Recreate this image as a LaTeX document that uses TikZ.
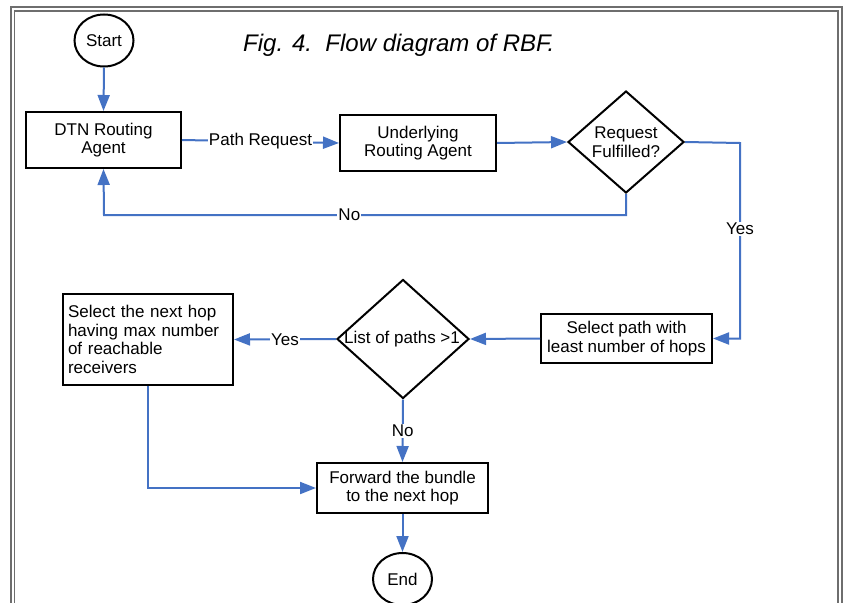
\documentclass[tikz,border=0pt]{standalone}
\usepackage{fontspec}
\setmainfont{Liberation Sans}
\usetikzlibrary{shapes.geometric,arrows.meta}
\definecolor{flowblue}{RGB}{68,114,196}
\definecolor{framegray}{RGB}{110,110,110}
\begin{document}
\begin{tikzpicture}[x=1pt,y=-1pt,
  box/.style={draw=black, line width=2pt, fill=white, inner sep=2pt, align=center, font=\fontsize{17}{18.5}\selectfont},
  term/.style={draw=black, line width=2pt, ellipse, minimum width=59pt, minimum height=52pt, inner sep=0pt, font=\fontsize{17}{18.5}\selectfont},
  decision/.style={draw=black, line width=2pt, diamond, inner sep=0pt},
  lbl/.style={font=\fontsize{17}{18.5}\selectfont, align=center, inner sep=1pt},
  flow/.style={draw=flowblue, line width=2pt, -{Triangle[length=16pt,width=12pt]}},
  link/.style={draw=flowblue, line width=2pt},
  frameline/.style={draw=framegray, line width=1.2pt}]
\useasboundingbox (0,0) rectangle (845,602);
% frame
\draw[frameline] (11,610) -- (11,7) -- (842,7) -- (842,610);
\draw[frameline] (14.5,610) -- (14.5,11) -- (838,11) -- (838,610);
% title
\node[anchor=base west, inner sep=0pt, font=\fontsize{24}{28}\selectfont\itshape] (title) at (243,52) {Fig. 4.\ \ Flow diagram of RBF.};
% nodes
\node[term] (start) at (104,40.5) {Start};
\node[box, minimum width=155pt, minimum height=56pt] (dtn) at (103.5,140) {DTN Routing\\Agent};
\node[box, minimum width=156pt, minimum height=56pt] (ura) at (418,143) {Underlying\\Routing Agent};
\node[decision, minimum width=116pt, minimum height=102pt] (d1) at (626,142) {};
\node[lbl] (d1t) at (626,142) {Request\\Fulfilled?};
\node[box, minimum width=171pt, minimum height=49pt] (sp) at (626.5,338.5) {Select path with\\least number of hops};
\node[decision, minimum width=132pt, minimum height=119pt] (d2) at (403,339) {};
\node[lbl] (d2t) at (402,339) {List of paths >1};
\node[box, minimum width=170pt, minimum height=91pt, text width=160pt, inner xsep=5pt, align=left] (nh) at (148,339.5) {Select the next hop\\having max number\\of reachable\\receivers};
\node[box, minimum width=171pt, minimum height=50pt] (fw) at (402.5,488) {Forward the bundle\\to the next hop};
\node[term] (end) at (402.5,579) {End};
% connectors
\draw[flow] (start.south) -- (dtn.north);
\draw[flow] (dtn.east) -- node[lbl, fill=white] {Path Request} (ura.west);
\draw[flow] (ura.east) -- (d1.west);
\coordinate (yr) at (740,143);
\draw[flow] (d1.east) -- (yr) |- node[lbl, fill=white, pos=0.22] {Yes} (sp.east);
\coordinate (n1) at (626,215);
\coordinate (n2) at (104,215);
\draw[flow] (d1.south) -- (n1) -- node[lbl, fill=white, pos=0.53] {No} (n2) -- (dtn.south);
\draw[flow] (sp.west) -- (d2.east);
\draw[flow] (d2.west) -- node[lbl, fill=white] {Yes} (nh.east);
\draw[flow] (d2.south) -- node[lbl, fill=white] {No} (fw.north);
\draw[flow] (nh.south) |- (fw.west);
\draw[flow] (fw.south) -- (end.north);
\end{tikzpicture}
\end{document}
